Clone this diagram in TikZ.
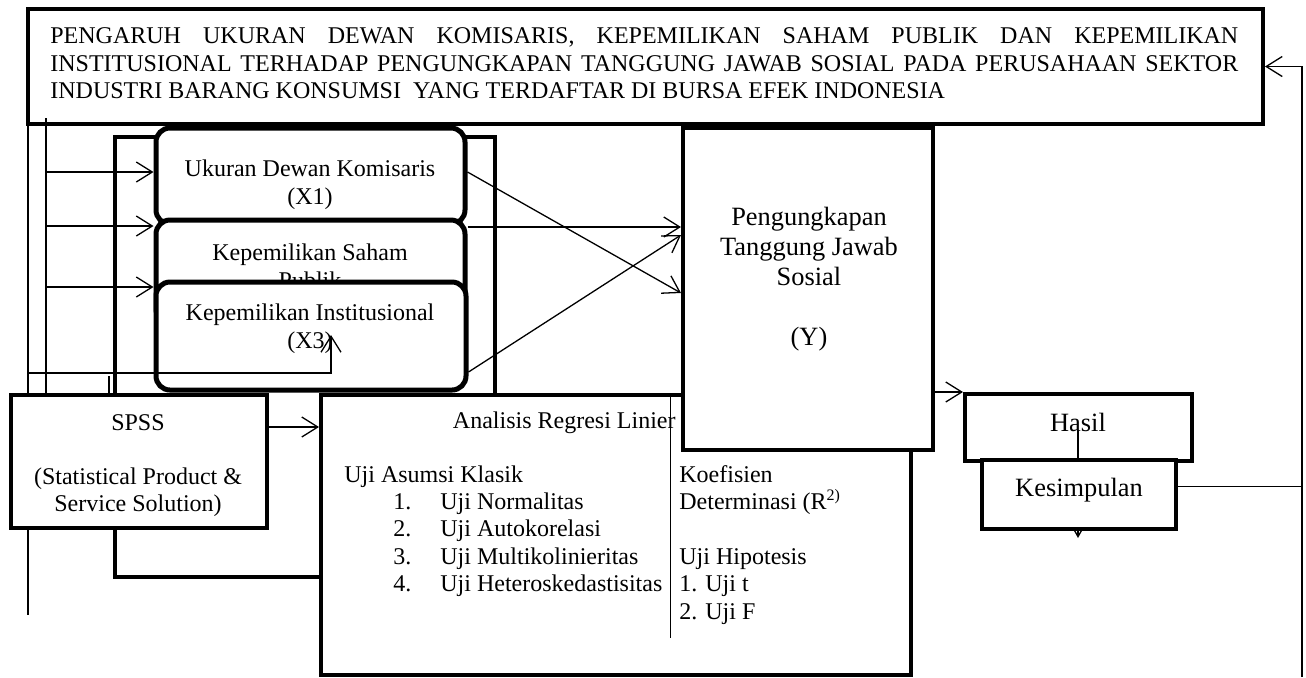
\documentclass[tikz,border=0pt]{standalone}
\usepackage{fontspec}
\setmainfont{Liberation Serif}
\usetikzlibrary{arrows.meta,calc}

\begin{document}
\begin{tikzpicture}[x=0.5pt, y=-0.5pt,
    every node/.style={inner sep=0pt, font=\fontsize{12}{14}\selectfont},
    box/.style={draw, fill=white, line width=2pt},
    xbox/.style={box, line width=2.5pt, rounded corners=7pt},
    txt/.style={align=center},
    big/.style={font=\fontsize{13.2}{15}\selectfont},
    conn/.style={line width=0.65pt},
    arr/.style={conn, -{Straight Barb[length=8pt, width=10pt]}}]

    \useasboundingbox (0,0) rectangle (1306,677);

    % frame behind the variables
    \node[box, minimum width=190pt, minimum height=220pt] (frame) at (305,357) {};

    % title
    \node[box, minimum width=617.5pt, minimum height=57.5pt] (title) at (645.5,66.5) {};
    \node[anchor=north west, align=left, font=\fontsize{12}{13.75}\selectfont] (titletxt) at (50,27.5)
        {\makebox[594pt][s]{PENGARUH UKURAN DEWAN KOMISARIS, KEPEMILIKAN SAHAM PUBLIK DAN KEPEMILIKAN}\\
         \makebox[594pt][s]{INSTITUSIONAL TERHADAP PENGUNGKAPAN TANGGUNG JAWAB SOSIAL PADA PERUSAHAAN SEKTOR}\\
         INDUSTRI BARANG KONSUMSI~ YANG TERDAFTAR DI BURSA EFEK INDONESIA};

    % left feed lines
    \coordinate (l1a) at (28,124);
    \coordinate (l1b) at (28,615);
    \coordinate (l2a) at (46,118);
    \draw[conn] (l1a) -- (l1b);

    % independent variables
    \node[xbox, minimum width=154.5pt, minimum height=48pt] (x1) at (310.5,176) {};
    \node[txt, anchor=north] (x1txt) at (310,159) {Ukuran Dewan Komisaris\\(X1)};
    \node[xbox, minimum width=154.5pt, minimum height=51.5pt] (x2) at (310.5,271.5) {};
    \node[txt, anchor=north] (x2txt) at (310,243) {Kepemilikan Saham\\Publik};
    \node[xbox, minimum width=155pt, minimum height=54pt] (x3) at (311,336) {};
    \node[txt, anchor=north] (x3txt) at (310,303) {Kepemilikan Institusional\\(X3)};

    \foreach \yy/\v in {172/x1, 226/x2, 287/x3} {
        \draw[arr] (l2a |- 0,\yy) -- (\v.west |- 0,\yy);
    }

    \coordinate (l3a) at (28,373);
    \coordinate (l3b) at (331,335);
    \draw[arr] (l3a) -| (l3b);
    \coordinate (tick) at (109,376);

    % SPSS
    \node[box, minimum width=128pt, minimum height=66.5pt] (spss) at (139,461.5) {};
    \node[txt, anchor=north, font=\fontsize{12}{13.5}\selectfont] (spsstxt) at (138,414)
        {SPSS\\[13.5pt](Statistical Product \&\\Service Solution)};
    \draw[conn] (l2a) -- (l2a |- spss.north);
    \draw[conn] (tick) -- (tick |- spss.north);

    % analysis
    \node[box, minimum width=295pt, minimum height=140pt] (anl) at (616,535) {};
    \draw[arr] (spss.east |- 0,427) -- (anl.west |- 0,427);
    \node[anchor=base east] (anltxt) at (676,428) {Analisis Regresi Linier};
    \node[anchor=base west] (klasik) at (344,482) {Uji Asumsi Klasik};
    \foreach \t [count=\i] in {Uji Normalitas, Uji Autokorelasi, Uji Multikolinieritas, Uji Heteroskedastisitas} {
        \node[anchor=base west] (no\i) at (393,{482+27.4*\i}) {\i.};
        \node[anchor=base west] (uji\i) at (440,{482+27.4*\i}) {\t};
    }
    \coordinate (divtop) at (670.5,395);
    \coordinate (divbot) at (670.5,638);
    \draw[conn] (divtop) -- (divbot);
    \foreach \yy/\t [count=\i] in {482/Koefisien, 509.4/{Determinasi (R\textsuperscript{2)}}, 564.2/Uji Hipotesis, 591.6/1. Uji t, 619/2. Uji F} {
        \node[anchor=base west] (kol\i) at (679,\yy) {\t};
    }

    % dependent variable
    \node[box, minimum width=125pt, minimum height=161pt] (yvar) at (808,289) {};
    \node[txt, big, anchor=north] (ytxt) at (809,207)
        {Pengungkapan\\Tanggung Jawab\\Sosial\\[15pt](Y)};
    \draw[arr] (x1.east |- 0,172) -- (yvar.west |- 0,293);
    \draw[arr] (x2.east |- 0,227) -- (yvar.west |- 0,227);
    \draw[arr] (x3.east |- 0,372) -- (yvar.west |- 0,235);

    % results
    \node[box, minimum width=113.5pt, minimum height=33.5pt] (hasil) at (1078.5,427.5) {};
    \node[big, anchor=base] (hasiltxt) at (1078,431) {Hasil};
    \draw[arr] (yvar.east |- hasil.north) -- (hasil.north west);
    \coordinate (kesout) at (1078,538);
    \draw[conn, -{Straight Barb[length=4pt, width=4.5pt]}] (hasiltxt.base) -- (kesout);
    \node[box, minimum width=97pt, minimum height=34.5pt] (kes) at (1079,494.5) {};
    \node[big, anchor=base] (kestxt) at (1079,496) {Kesimpulan};

    % feedback to the title
    \coordinate (rbot) at (1302,677);
    \draw[arr] (rbot) |- (title.east);
    \coordinate (kesr) at ([yshift=4pt]kes.east);
    \draw[conn] (kesr) -- (kesr -| rbot);
\end{tikzpicture}
\end{document}
